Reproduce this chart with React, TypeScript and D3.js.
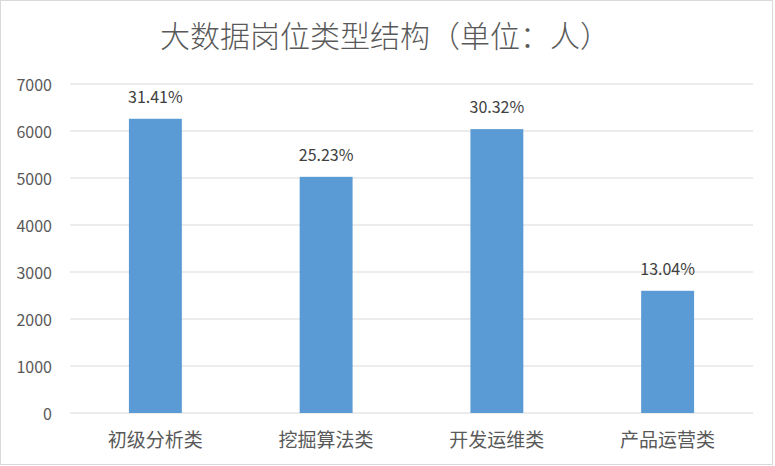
import * as d3 from 'd3';

const CATEGORIES = ['初级分析类', '挖掘算法类', '开发运维类', '产品运营类'];
const VALUES = [6260, 5025, 6040, 2600];
const SHARE_LABELS = ['31.41%', '25.23%', '30.32%', '13.04%'];
const Y_TICKS = [0, 1000, 2000, 3000, 4000, 5000, 6000, 7000];
const TITLE = '大数据岗位类型结构（单位：人）';

const W = 775;
const H = 466;
const FONT = '"Noto Sans CJK SC", "Liberation Sans", sans-serif';
const TEXT = '#595959';

export default function App() {
  const margin = { top: 84, right: 22, bottom: 53, left: 70 };
  const innerW = W - margin.left - margin.right;
  const innerH = H - margin.top - margin.bottom;

  const x = d3.scaleBand()
    .domain(CATEGORIES)
    .range([0, innerW])
    .paddingInner(0.69)
    .paddingOuter(0.345);

  const y = d3.scaleLinear()
    .domain([0, 7000])
    .range([innerH, 0]);

  return (
    <svg width={W} height={H} style={{ position: 'absolute', left: 0, top: 0, background: '#fff' }}>
      <rect x={0.5} y={0.5} width={W - 3} height={H - 2} fill="#fff" stroke="#d9d9d9" />
      <text x={385} y={47} textAnchor="middle" fontSize={30} fontFamily={FONT} fontWeight={300} fill={TEXT}>{TITLE}</text>
      <g transform={`translate(${margin.left},${margin.top})`}>
        {Y_TICKS.map(t => (
          <g key={t}>
            <line x1={0} x2={innerW} y1={y(t)} y2={y(t)} stroke="#d9d9d9" strokeWidth={1} />
            <text x={-18} y={y(t)} textAnchor="end" dominantBaseline="central" fontSize={16} fontFamily={FONT} fill={TEXT}>{t}</text>
          </g>
        ))}
        {CATEGORIES.map((c, i) => {
          const bx = x(c) ?? 0;
          const bw = x.bandwidth();
          return (
            <g key={c}>
              <rect x={bx} y={y(VALUES[i])} width={bw} height={innerH - y(VALUES[i])} fill="#5B9BD5" />
              <text x={bx + bw / 2} y={y(VALUES[i]) - 16} textAnchor="middle" fontSize={16} fontFamily={FONT} fill="#404040">{SHARE_LABELS[i]}</text>
              <text x={bx + bw / 2} y={innerH + 34} textAnchor="middle" fontSize={19} fontFamily={FONT} fill={TEXT}>{c}</text>
            </g>
          );
        })}
      </g>
    </svg>
  );
}
